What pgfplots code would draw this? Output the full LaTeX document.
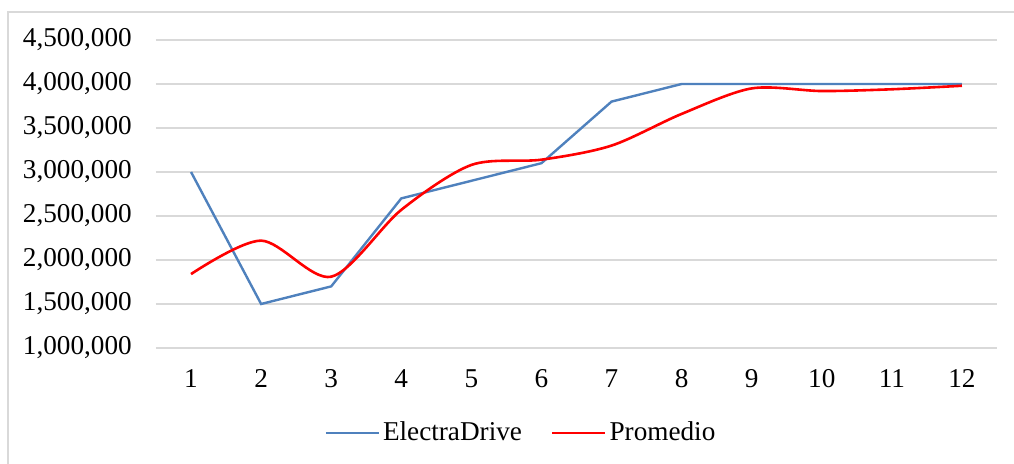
\documentclass[border=0pt]{standalone}
\usepackage{pgfplots}
\pgfplotsset{compat=1.18}
\usepackage{fontspec}
\setmainfont{Liberation Serif}
\definecolor{eblue}{HTML}{4F81BD}
\definecolor{gridgray}{HTML}{D9D9D9}
\begin{document}
\fontsize{13.6}{16}\selectfont
\begin{tikzpicture}
\path[use as bounding box] (-78pt,-58pt) rectangle (429pt,174pt);
\draw[gridgray, line width=0.75pt] (-74pt,-62pt) -- (-74pt,168pt) -- (432pt,168pt);
\begin{axis}[at={(0,0)}, anchor=south west, scale only axis,
  width=420.5pt, height=154pt,
  xmin=0.5, xmax=12.5, ymin=1000000, ymax=4500000,
  xtick={1,2,3,4,5,6,7,8,9,10,11,12},
  ytick={1000000,1500000,2000000,2500000,3000000,3500000,4000000,4500000},
  ymajorgrids, grid style={gridgray, line width=0.75pt},
  axis line style={draw=none}, major tick length=0pt,
  scaled y ticks=false,
  yticklabel style={xshift=-7.4pt},
  xticklabel style={yshift=-6pt},
  clip=false,
  legend columns=2,
  legend style={at={(0.4346,-0.276)}, anchor=center, draw=none, fill=none,
    nodes={inner sep=1.5pt},
    /tikz/every even column/.append style={column sep=13pt}},
  legend image code/.code={\draw[#1] (0pt,0pt) -- (26.5pt,0pt);},
  /pgf/number format/1000 sep={,},
  /pgf/number format/fixed,
  /pgf/number format/assume math mode=true,
]
\addplot[eblue, line width=1.2pt] coordinates {
  (1,3000000) (2,1500000) (3,1700000) (4,2700000) (5,2900000) (6,3100000)
  (7,3800000) (8,4000000) (9,4000000) (10,4000000) (11,4000000) (12,4000000)};
\addlegendentry{ElectraDrive}
\addplot[red, line width=1.3pt, smooth] coordinates {
  (1,1840000) (2,2220000) (3,1810000) (4,2570000) (5,3080000) (6,3140000)
  (7,3300000) (8,3660000) (9,3950000) (10,3920000) (11,3940000) (12,3980000)};
\addlegendentry{Promedio}
\end{axis}
\end{tikzpicture}
\end{document}
